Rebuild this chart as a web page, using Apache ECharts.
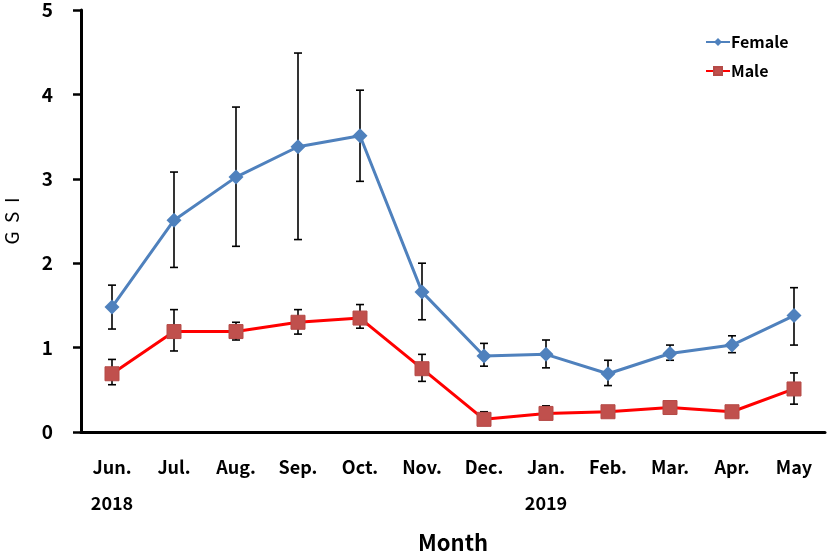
<!DOCTYPE html>
<html><head><meta charset="utf-8">
<script src="https://cdn.jsdelivr.net/npm/echarts@6/dist/echarts.min.js"></script>
<style>html,body{margin:0;padding:0;background:#fff}#c{width:827px;height:556px}</style>
</head><body><div id="c"></div>
<script>
const months = ['Jun.','Jul.','Aug.','Sep.','Oct.','Nov.','Dec.','Jan.','Feb.','Mar.','Apr.','May'];
const years = ['2018','','','','','','','2019','','','',''];
const femaleMean = [1.48,2.51,3.02,3.38,3.51,1.66,0.90,0.92,0.69,0.93,1.03,1.38];
const femaleHigh = [1.74,3.08,3.85,4.49,4.05,2.00,1.05,1.09,0.85,1.03,1.14,1.71];
const femaleLow  = [1.22,1.95,2.20,2.28,2.97,1.33,0.78,0.76,0.55,0.85,0.94,1.03];
const maleMean = [0.69,1.19,1.19,1.30,1.35,0.75,0.15,0.22,0.24,0.29,0.24,0.51];
const maleHigh = [0.86,1.45,1.30,1.45,1.51,0.92,0.24,0.31,0.26,0.31,0.26,0.70];
const maleLow  = [0.56,0.96,1.09,1.16,1.23,0.60,0.08,0.15,0.22,0.27,0.22,0.33];
const yTicks = [0,1,2,3,4,5];

const FONT = "'Noto Sans CJK KR','Noto Sans',sans-serif";
function errData(lo, hi){ return months.map((m,i)=>[i, lo[i], hi[i]]); }
function errRender(params, api){
  const x = api.value(0);
  const lo = api.coord([x, api.value(1)]);
  const hi = api.coord([x, api.value(2)]);
  const w = 4;
  const st = {stroke:'#000', lineWidth:1.6};
  return {type:'group', children:[
    {type:'line', shape:{x1:lo[0],y1:lo[1],x2:hi[0],y2:hi[1]}, style:st},
    {type:'line', shape:{x1:hi[0]-w,y1:hi[1],x2:hi[0]+w,y2:hi[1]}, style:st},
    {type:'line', shape:{x1:lo[0]-w,y1:lo[1],x2:lo[0]+w,y2:lo[1]}, style:st}
  ]};
}
const chart = echarts.init(document.getElementById('c'));
chart.setOption({
  animation:false,
  backgroundColor:'#fff',
  grid:{left:81, right:2, top:10, bottom:124, containLabel:false, outerBoundsMode:'none'},
  legend:{
    data:['Female','Male'], orient:'vertical', left:700, top:29, itemGap:13,
    itemWidth:24, itemHeight:10,
    textStyle:{fontFamily:FONT, fontWeight:'bold', fontSize:16, color:'#000', padding:[0,0,0,-4]}
  },
  xAxis:{
    type:'category', data:months, boundaryGap:true,
    axisLine:{lineStyle:{color:'#000', width:3}},
    axisTick:{inside:true, length:8, lineStyle:{color:'#000', width:2.5}},
    axisLabel:{
      margin:17, interval:0,
      formatter:(v,i)=> years[i] ? '{m|'+v+'}\n{y|'+years[i]+'}' : '{m|'+v+'}\n{y| }',
      rich:{
        m:{fontFamily:FONT, fontWeight:'bold', fontSize:18, color:'#000', lineHeight:36},
        y:{fontFamily:FONT, fontWeight:'bold', fontSize:18, color:'#000', lineHeight:36}
      }
    },
    name:'Month', nameLocation:'middle', nameGap:100,
    nameTextStyle:{fontFamily:FONT, fontWeight:'bold', fontSize:22, color:'#000'}
  },
  yAxis:{
    type:'value', min:yTicks[0], max:yTicks[yTicks.length-1], interval:1,
    axisLine:{show:true, lineStyle:{color:'#000', width:3}},
    axisTick:{show:true, inside:false, length:8, lineStyle:{color:'#000', width:2.5}},
    splitLine:{show:false},
    axisLabel:{show:true, inside:false, margin:28, fontFamily:FONT, fontWeight:'bold', fontSize:19, color:'#000'},
    name:'G  S  I', nameLocation:'middle', nameRotate:90, nameGap:60,
    nameTextStyle:{fontFamily:FONT, fontSize:19, color:'#000'}
  },
  series:[
    {type:'custom', name:'errF', renderItem:errRender, data:errData(femaleLow,femaleHigh), z:1, silent:true},
    {type:'custom', name:'errM', renderItem:errRender, data:errData(maleLow,maleHigh), z:1, silent:true},
    {type:'line', name:'Female', data:femaleMean, z:3,
     lineStyle:{color:'#4F81BD', width:3}, itemStyle:{color:'#4F81BD'},
     symbol:'diamond', symbolSize:15, showAllSymbol:true},
    {type:'line', name:'Male', data:maleMean, z:3,
     lineStyle:{color:'#FF0000', width:3}, itemStyle:{color:'#C0504D', borderColor:'#B54A47', borderWidth:1},
     symbol:'rect', symbolSize:14, showAllSymbol:true}
  ]
});
</script></body></html>
